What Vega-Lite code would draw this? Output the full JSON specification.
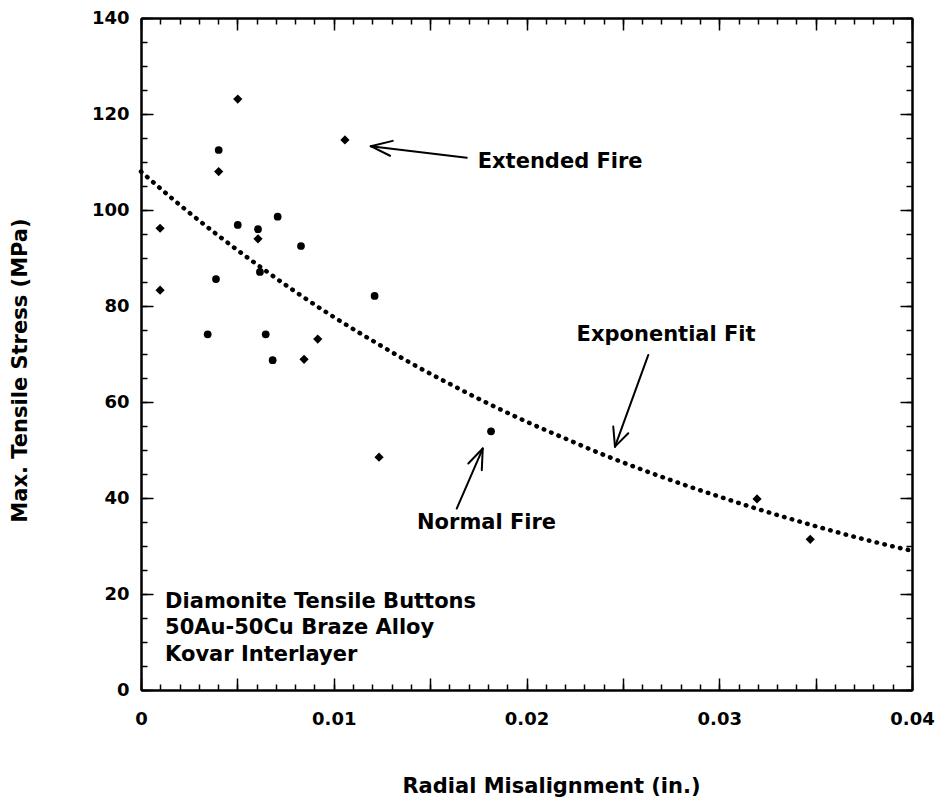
{
  "$schema": "https://vega.github.io/schema/vega-lite/v6.json",
  "autosize": {"type": "none"},
  "padding": {"left": 141, "top": 18, "right": 35, "bottom": 110},
  "width": 771,
  "height": 672,
  "background": "white",
  "config": {
    "view": {"stroke": null},
    "axis": {
      "grid": false,
      "domainColor": "black",
      "domainWidth": 2,
      "tickColor": "black",
      "tickWidth": 1.5,
      "labelFont": "DejaVu Sans",
      "labelFontWeight": "bold",
      "labelFontSize": 18,
      "labelColor": "black",
      "labelOverlap": false,
      "labelFlush": false,
      "titleFont": "DejaVu Sans",
      "titleFontWeight": "bold",
      "titleFontSize": 21,
      "titleColor": "black"
    }
  },
  "datasets": {
    "points": [
      {"mis": 0.00502, "stress": 123.1, "fire": "Extended"},
      {"mis": 0.01058, "stress": 114.6, "fire": "Extended"},
      {"mis": 0.00403, "stress": 112.5, "fire": "Normal"},
      {"mis": 0.00403, "stress": 108.0, "fire": "Extended"},
      {"mis": 0.00099, "stress": 96.2, "fire": "Extended"},
      {"mis": 0.00502, "stress": 96.9, "fire": "Normal"},
      {"mis": 0.00607, "stress": 96.0, "fire": "Normal"},
      {"mis": 0.00607, "stress": 94.0, "fire": "Extended"},
      {"mis": 0.00709, "stress": 98.6, "fire": "Normal"},
      {"mis": 0.00830, "stress": 92.5, "fire": "Normal"},
      {"mis": 0.00389, "stress": 85.6, "fire": "Normal"},
      {"mis": 0.00099, "stress": 83.3, "fire": "Extended"},
      {"mis": 0.00617, "stress": 87.1, "fire": "Normal"},
      {"mis": 0.01212, "stress": 82.1, "fire": "Normal"},
      {"mis": 0.00346, "stress": 74.1, "fire": "Normal"},
      {"mis": 0.00647, "stress": 74.1, "fire": "Normal"},
      {"mis": 0.00917, "stress": 73.1, "fire": "Extended"},
      {"mis": 0.00683, "stress": 68.7, "fire": "Normal"},
      {"mis": 0.00846, "stress": 68.9, "fire": "Extended"},
      {"mis": 0.01816, "stress": 53.9, "fire": "Normal"},
      {"mis": 0.01235, "stress": 48.5, "fire": "Extended"},
      {"mis": 0.03196, "stress": 39.8, "fire": "Extended"},
      {"mis": 0.03472, "stress": 31.4, "fire": "Extended"}
    ],
    "curve": [
      {"mis": 0.000, "stress": 108.0},
      {"mis": 0.002, "stress": 101.1},
      {"mis": 0.004, "stress": 94.7},
      {"mis": 0.006, "stress": 88.7},
      {"mis": 0.008, "stress": 83.0},
      {"mis": 0.010, "stress": 77.7},
      {"mis": 0.012, "stress": 72.8},
      {"mis": 0.014, "stress": 68.1},
      {"mis": 0.016, "stress": 63.8},
      {"mis": 0.018, "stress": 59.7},
      {"mis": 0.020, "stress": 55.9},
      {"mis": 0.022, "stress": 52.4},
      {"mis": 0.024, "stress": 49.0},
      {"mis": 0.026, "stress": 45.9},
      {"mis": 0.028, "stress": 43.0},
      {"mis": 0.030, "stress": 40.3},
      {"mis": 0.032, "stress": 37.7},
      {"mis": 0.034, "stress": 35.3},
      {"mis": 0.036, "stress": 33.0},
      {"mis": 0.038, "stress": 30.9},
      {"mis": 0.040, "stress": 29.0}
    ],
    "arrows": [
      {"x": 0.01690, "y": 110.9, "x2": 0.01192, "y2": 113.3},
      {"x": 0.01192, "y": 113.3, "x2": 0.01306, "y2": 114.4},
      {"x": 0.01192, "y": 113.3, "x2": 0.01292, "y2": 111.3},
      {"x": 0.02632, "y": 69.8, "x2": 0.02459, "y2": 50.7},
      {"x": 0.02459, "y": 50.7, "x2": 0.02450, "y2": 54.9},
      {"x": 0.02459, "y": 50.7, "x2": 0.02528, "y2": 53.5},
      {"x": 0.01638, "y": 37.8, "x2": 0.01773, "y2": 50.3},
      {"x": 0.01773, "y": 50.3, "x2": 0.01698, "y2": 47.2},
      {"x": 0.01773, "y": 50.3, "x2": 0.01768, "y2": 45.8}
    ],
    "notes": [
      {"x": 0.01747, "y": 110.1, "text": "Extended Fire"},
      {"x": 0.02260, "y": 74.0, "text": "Exponential Fit"},
      {"x": 0.01432, "y": 34.7, "text": "Normal Fire"},
      {"x": 0.00125, "y": 18.4, "text": "Diamonite Tensile Buttons"},
      {"x": 0.00125, "y": 12.85, "text": "50Au-50Cu Braze Alloy"},
      {"x": 0.00125, "y": 7.3, "text": "Kovar Interlayer"}
    ]
  },
  "resolve": {"scale": {"x": "shared", "y": "shared"}, "axis": {"x": "independent", "y": "independent"}},
  "layer": [
    {
      "data": {"name": "curve"},
      "mark": {"type": "line", "color": "black", "strokeWidth": 4.5, "strokeCap": "round", "strokeDash": [0.5, 7.5], "interpolate": "monotone"},
      "encoding": {
        "x": {"field": "mis", "type": "quantitative", "scale": {"domain": [0, 0.04], "nice": false, "zero": false},
          "axis": {"orient": "bottom", "title": "Radial Misalignment (in.)", "tickSize": -6, "labelPadding": 26,
            "values": [0,0.001,0.002,0.003,0.004,0.005,0.006,0.007,0.008,0.009,0.01,0.011,0.012,0.013,0.014,0.015,0.016,0.017,0.018,0.019,0.02,0.021,0.022,0.023,0.024,0.025,0.026,0.027,0.028,0.029,0.03,0.031,0.032,0.033,0.034,0.035,0.036,0.037,0.038,0.039,0.04],
            "labelExpr": "datum.value == 0 ? '0' : (abs(datum.value*100 - round(datum.value*100)) < 0.0001 ? format(datum.value, '.2f') : '')",
            "titleX": 410, "titleY": 96, "titleBaseline": "middle", "titleAnchor": null}},
        "y": {"field": "stress", "type": "quantitative", "scale": {"domain": [0, 140], "nice": false},
          "axis": {"orient": "left", "title": "Max. Tensile Stress (MPa)", "tickSize": -6, "labelPadding": 18,
            "values": [0,5,10,15,20,25,30,35,40,45,50,55,60,65,70,75,80,85,90,95,100,105,110,115,120,125,130,135,140],
            "labelExpr": "datum.value % 20 == 0 ? datum.label : ''",
            "titleX": -121, "titleY": 352, "titleBaseline": "middle"}}
      }
    },
    {
      "data": {"name": "points"},
      "transform": [{"filter": "datum.fire == 'Normal'"}],
      "mark": {"type": "point", "shape": "circle", "filled": true, "color": "black", "opacity": 1, "size": 60},
      "encoding": {
        "x": {"field": "mis", "type": "quantitative",
          "axis": {"orient": "bottom", "title": null, "labels": false, "tickSize": -12, "domain": true,
            "values": [0,0.005,0.01,0.015,0.02,0.025,0.03,0.035,0.04]}},
        "y": {"field": "stress", "type": "quantitative",
          "axis": {"orient": "left", "title": null, "labels": false, "tickSize": -12,
            "values": [0,20,40,60,80,100,120,140]}}
      }
    },
    {
      "data": {"name": "points"},
      "transform": [{"filter": "datum.fire == 'Extended'"}],
      "mark": {"type": "point", "shape": "diamond", "filled": true, "color": "black", "opacity": 1, "size": 85},
      "encoding": {
        "x": {"field": "mis", "type": "quantitative",
          "axis": {"orient": "top", "title": null, "labels": false, "tickSize": -6,
            "values": [0,0.001,0.002,0.003,0.004,0.005,0.006,0.007,0.008,0.009,0.01,0.011,0.012,0.013,0.014,0.015,0.016,0.017,0.018,0.019,0.02,0.021,0.022,0.023,0.024,0.025,0.026,0.027,0.028,0.029,0.03,0.031,0.032,0.033,0.034,0.035,0.036,0.037,0.038,0.039,0.04]}},
        "y": {"field": "stress", "type": "quantitative",
          "axis": {"orient": "right", "title": null, "labels": false, "tickSize": -6,
            "values": [0,5,10,15,20,25,30,35,40,45,50,55,60,65,70,75,80,85,90,95,100,105,110,115,120,125,130,135,140]}}
      }
    },
    {
      "data": {"name": "arrows"},
      "mark": {"type": "rule", "color": "black", "strokeWidth": 2, "strokeCap": "round"},
      "encoding": {
        "x": {"field": "x", "type": "quantitative",
          "axis": {"orient": "top", "title": null, "labels": false, "tickSize": -12,
            "values": [0,0.005,0.01,0.015,0.02,0.025,0.03,0.035,0.04]}},
        "y": {"field": "y", "type": "quantitative",
          "axis": {"orient": "right", "title": null, "labels": false, "tickSize": -12,
            "values": [0,20,40,60,80,100,120,140]}},
        "x2": {"field": "x2"},
        "y2": {"field": "y2"}
      }
    },
    {
      "data": {"name": "notes"},
      "mark": {"type": "text", "align": "left", "baseline": "middle", "font": "DejaVu Sans", "fontWeight": "bold", "fontSize": 21, "color": "black"},
      "encoding": {
        "x": {"field": "x", "type": "quantitative", "axis": null},
        "y": {"field": "y", "type": "quantitative", "axis": null},
        "text": {"field": "text"}
      }
    }
  ]
}
